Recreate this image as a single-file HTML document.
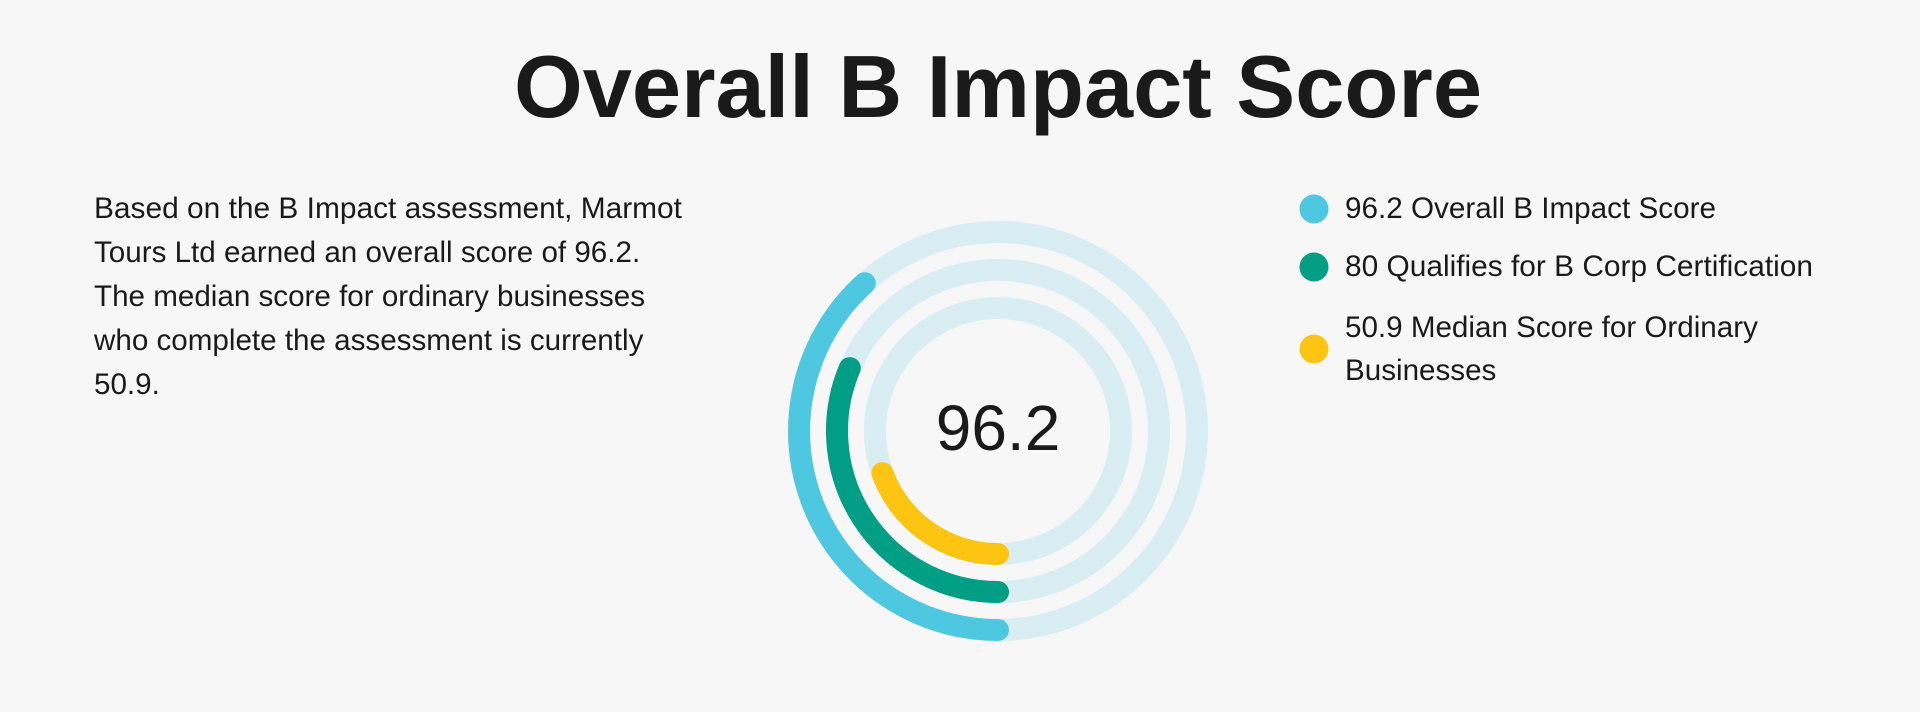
<!DOCTYPE html>
<html><head><meta charset="utf-8"><style>
html,body{margin:0;padding:0;background:#f7f7f7;}
svg{display:block;}
text{font-family:"Liberation Sans",Arial,sans-serif;fill:#1a1a1a;}
</style></head><body>
<svg width="1920" height="712" viewBox="0 0 1920 712">
<rect width="1920" height="712" fill="#f7f7f7"/>
<text x="998" y="117" text-anchor="middle" font-size="88" font-weight="bold" textLength="968" lengthAdjust="spacingAndGlyphs">Overall B Impact Score</text>
<g font-size="29.6">
<text x="94" y="218" textLength="588" lengthAdjust="spacingAndGlyphs">Based on the B Impact assessment, Marmot</text>
<text x="94" y="262">Tours Ltd earned an overall score of 96.2.</text>
<text x="94" y="306">The median score for ordinary businesses</text>
<text x="94" y="350">who complete the assessment is currently</text>
<text x="94" y="394">50.9.</text>
</g>
<g fill="none" stroke-width="22" stroke-linecap="round">
<circle cx="998" cy="431" r="199" stroke="#d9eef3"/>
<circle cx="998" cy="431" r="161" stroke="#d9eef3"/>
<circle cx="998" cy="431" r="123" stroke="#d9eef3"/>
<path d="M998 630 A199 199 0 0 1 864.8 283.2" stroke="#4ec8e0"/>
<path d="M998 592 A161 161 0 0 1 849.8 368.1" stroke="#009e84"/>
<path d="M998 554 A123 123 0 0 1 882.4 473.1" stroke="#fdc412"/>
</g>
<text x="998" y="450" text-anchor="middle" font-size="64">96.2</text>
<circle cx="1314" cy="209" r="14.5" fill="#4ec8e0"/>
<circle cx="1314" cy="267" r="14.5" fill="#009e84"/>
<circle cx="1314" cy="349" r="14.5" fill="#fdc412"/>
<g font-size="29.6">
<text x="1345" y="218" textLength="371" lengthAdjust="spacingAndGlyphs">96.2 Overall B Impact Score</text>
<text x="1345" y="276" textLength="468" lengthAdjust="spacingAndGlyphs">80 Qualifies for B Corp Certification</text>
<text x="1345" y="337">50.9 Median Score for Ordinary</text>
<text x="1345" y="380">Businesses</text>
</g>
</svg>
</body></html>
